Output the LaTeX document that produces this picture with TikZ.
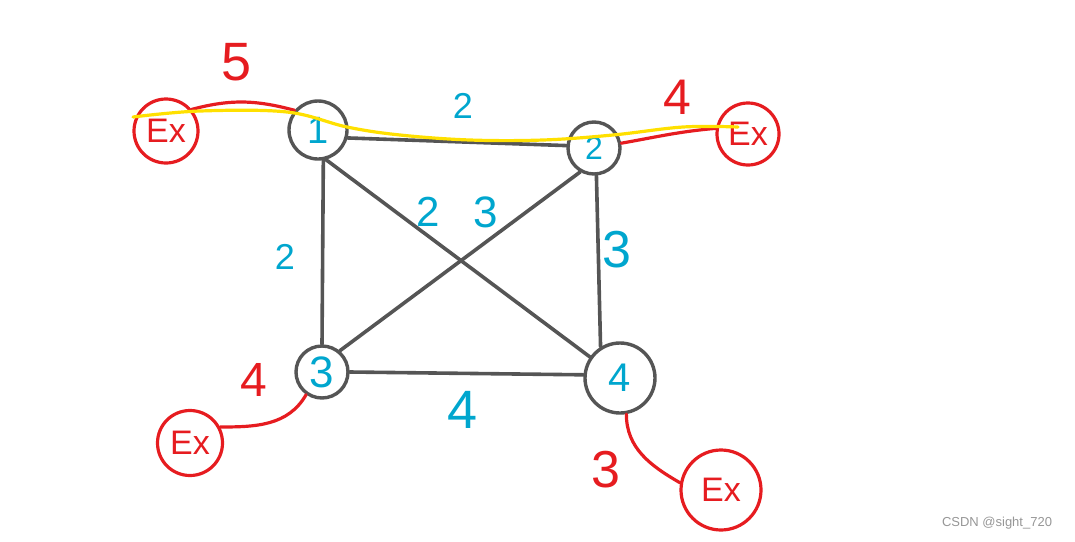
\documentclass[tikz,border=0pt]{standalone}
\usepackage{fontspec}
\setmainfont{Liberation Sans}
\usetikzlibrary{positioning}

\definecolor{edgegray}{RGB}{85,85,85}
\definecolor{wblue}{RGB}{0,166,206}
\definecolor{exred}{RGB}{230,28,32}
\definecolor{hlyellow}{RGB}{255,224,0}
\definecolor{markgray}{RGB}{150,150,150}

\tikzset{
	fs/.style={font=\fontsize{#1}{#1}\selectfont},
	vtx/.style={circle,draw=edgegray,line width=3.4pt,inner sep=0pt,text=wblue,minimum size=#1},
	exv/.style={circle,draw=exred,line width=3.2pt,inner sep=0pt,text=exred,minimum size=#1,fs=34},
	gedge/.style={draw=edgegray,line width=3.6pt,line cap=round},
	redge/.style={draw=exred,line width=3.2pt,line cap=round},
	hl/.style={draw=hlyellow,line width=3.2pt,line cap=round},
	wlab/.style={text=wblue,inner sep=0pt},
	rlab/.style={text=exred,inner sep=0pt},
	wmark/.style={text=markgray,fs=13,inner sep=0pt}
}

\begin{document}
\begin{tikzpicture}[x=1pt,y=1pt]
	\useasboundingbox (0,0) rectangle (1075,-541);
	
	% 四个顶点
	\node[vtx=58,fs=38] (n1) at (318,-130) {1};
	\node[vtx=52,fs=32] (n2) at (594,-148) {2};
	\node[vtx=52,fs=44] (n3) at (322,-372) {3};
	\node[vtx=70,fs=40] (n4) at (620,-378) {4};
	
	% 外部点 Ex
	\node[exv=64] (e1) at (166,-131) {Ex};
	\node[exv=62] (e2) at (748,-134) {Ex};
	\node[exv=65] (e3) at (190,-443) {Ex};
	\node[exv=80] (e4) at (721,-490) {Ex};
	
	% 灰色边
	\draw[gedge] (n1.-15) -- (n2.175);
	\draw[gedge] (n1.-80) -- (n3.north);
	\draw[gedge] (n2.-85) -- (n4.122);
	\draw[gedge] (n3.east) -- (n4.175);
	\draw[gedge] (n1.-75) -- (n4.145);
	\draw[gedge] (n2.-120) -- (n3.50);
	
	% 到 Ex 的红色边
	\draw[redge] (e1.40) to[out=15,in=165] (n1.140);
	\draw[redge] (n2.10) to[out=10,in=185] (e2.170);
	\draw[redge] (n3.235) to[out=240,in=0] (e3.28);
	\draw[redge] (n4.280) to[out=-90,in=150] (e4.170);
	
	% 黄色路径
	\coordinate (hlA) at (133,-117);
	\coordinate (hlB) at (738,-127);
	\draw[hl] plot[smooth,tension=0.6] coordinates {(hlA) (200,-111) (287,-112) (347,-127) (400,-135) (470,-140) (543,-140) (613,-135) (683,-127) (hlB)};
	
	% 蓝色权值
	\node[wlab,fs=36] (w12) at (463,-106) {2};
	\node[wlab,fs=36] (w13) at (285,-257) {2};
	\node[wlab,fs=42] (w14) at (428,-212) {2};
	\node[wlab,fs=44] (w23) at (486,-212) {3};
	\node[wlab,fs=52] (w24) at (617,-250) {3};
	\node[wlab,fs=54] (w34) at (463,-410) {4};
	
	% 红色权值
	\node[rlab,fs=54] (r1) at (237,-62) {5};
	\node[rlab,fs=50] (r2) at (677,-97) {4};
	\node[rlab,fs=48] (r3) at (254,-380) {4};
	\node[rlab,fs=52] (r4) at (606,-470) {3};
	
	\node[wmark] (wm) at (997,-523) {CSDN @sight\_720};
\end{tikzpicture}
\end{document}
